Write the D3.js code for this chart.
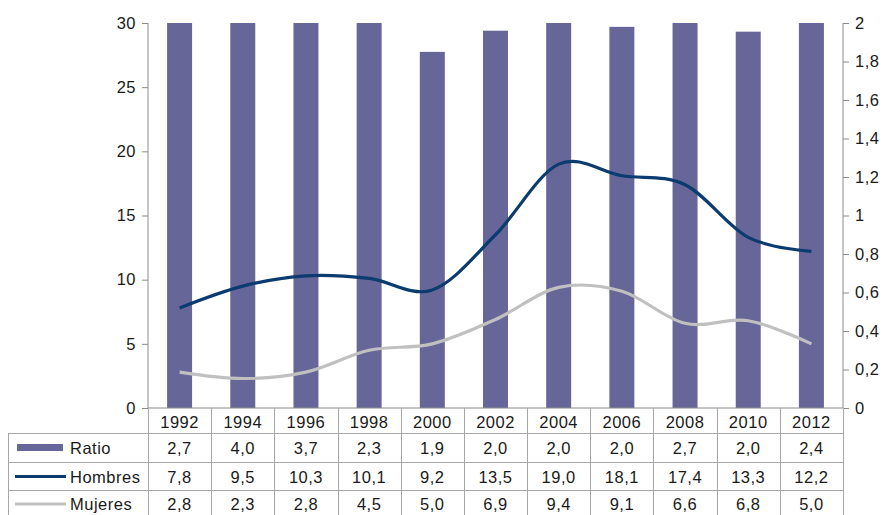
<!DOCTYPE html>
<html><head><meta charset="utf-8">
<script src="https://cdn.jsdelivr.net/npm/d3@7"></script>
<style>body{margin:0;background:#fff}svg{display:block}text{font-family:"Liberation Sans",Arial,sans-serif;fill:#1a1a1a}</style>
</head><body><svg id="c" width="887" height="515"></svg>
<script>
const years = ["1992","1994","1996","1998","2000","2002","2004","2006","2008","2010","2012"];
const ratio = [2.7, 4.0, 3.7, 2.3, 1.85, 1.96, 2.0, 1.98, 2.7, 1.955, 2.4];
const hombres = [7.8, 9.5, 10.3, 10.1, 9.2, 13.5, 19.0, 18.1, 17.4, 13.3, 12.2];
const mujeres = [2.8, 2.3, 2.8, 4.5, 5.0, 6.9, 9.4, 9.1, 6.6, 6.8, 5.0];
const leftTicks = [0, 5, 10, 15, 20, 25, 30];
const rightTicks = [0, 0.2, 0.4, 0.6, 0.8, 1, 1.2, 1.4, 1.6, 1.8, 2];
const seriesNames = ["Ratio", "Hombres", "Mujeres"];

const svg = d3.select("#c");
const L = 148, R = 843, T = 23, B = 408;
const axisColor = "#8c8c8c";
const fs = 16.5;
const ls = "0.5px";
const comma = v => String(v).replace(".", ",");
const fmt1 = v => (Math.round(v * 10) / 10).toFixed(1).replace(".", ",");

const x = d3.scaleBand().domain(years).range([L, R]).paddingInner(0).paddingOuter(0);
const yL = d3.scaleLinear().domain([0, 30]).range([B, T]);
const yR = d3.scaleLinear().domain([0, 2]).range([B, T]).clamp(true);
const barW = 25;

// bars
svg.append("g").selectAll("rect").data(ratio).join("rect")
  .attr("x", (d, i) => x(years[i]) + x.bandwidth() / 2 - barW / 2)
  .attr("width", barW)
  .attr("y", d => yR(d))
  .attr("height", d => B - yR(d))
  .attr("fill", "#666699");

// lines
const line = d3.line().x((d, i) => x(years[i]) + x.bandwidth() / 2).y(d => yL(d)).curve(d3.curveCardinal.tension(0));
svg.append("path").attr("d", line(mujeres)).attr("fill", "none").attr("stroke", "#c0c0c0").attr("stroke-width", 3.2);
svg.append("path").attr("d", line(hombres)).attr("fill", "none").attr("stroke", "#0b3b6f").attr("stroke-width", 3.2);

// axes
const gL = svg.append("g").attr("transform", `translate(${L},0)`)
  .call(d3.axisLeft(yL).tickValues(leftTicks).tickSize(6).tickPadding(6).tickFormat(comma));
const gR = svg.append("g").attr("transform", `translate(${R},0)`)
  .call(d3.axisRight(yR).tickValues(rightTicks).tickSize(6).tickPadding(6).tickFormat(comma));
[gL, gR].forEach(g => {
  g.select(".domain").attr("stroke", axisColor).attr("d", `M0,${T}V${B}`);
  g.selectAll(".tick line").attr("stroke", axisColor);
  g.selectAll(".tick text").attr("font-size", fs).attr("letter-spacing", ls).attr("fill", "#1a1a1a").attr("font-family", '"Liberation Sans",Arial,sans-serif');
});

// data table
const rowTops = [408, 433, 462, 490, 520];
const tbl = svg.append("g");
const gridC = "#a6a6a6";
tbl.append("line").attr("x1", L).attr("x2", R).attr("y1", B).attr("y2", B).attr("stroke", axisColor);
[1, 2, 3].forEach(k => tbl.append("line").attr("x1", 8.5).attr("x2", R).attr("y1", rowTops[k] + 0.5).attr("y2", rowTops[k] + 0.5).attr("stroke", gridC));
const vx = years.map(y => x(y)).concat([R]);
vx.forEach(v => tbl.append("line").attr("x1", Math.round(v) + 0.5).attr("x2", Math.round(v) + 0.5).attr("y1", B).attr("y2", 515).attr("stroke", gridC));
tbl.append("line").attr("x1", 8.5).attr("x2", 8.5).attr("y1", rowTops[1]).attr("y2", 515).attr("stroke", gridC);

tbl.selectAll("text.yr").data(years).join("text").attr("class", "yr")
  .attr("x", d => x(d) + x.bandwidth() / 2).attr("y", (rowTops[0] + rowTops[1]) / 2 + 1)
  .attr("text-anchor", "middle").attr("dominant-baseline", "central").attr("font-size", fs).attr("letter-spacing", ls).text(d => d);

const rows = [ratio.map(fmt1), hombres.map(v => v.toFixed(1).replace(".", ",")), mujeres.map(v => v.toFixed(1).replace(".", ","))];
const rowCenters = [447.5, 476.5, 504];
rows.forEach((r, k) => {
  tbl.selectAll("text.r" + k).data(r).join("text").attr("class", "r" + k)
    .attr("x", (d, i) => x(years[i]) + x.bandwidth() / 2).attr("y", rowCenters[k])
    .attr("text-anchor", "middle").attr("dominant-baseline", "central").attr("font-size", fs).attr("letter-spacing", ls).text(d => d);
  tbl.append("text").attr("x", 70).attr("y", rowCenters[k]).attr("dominant-baseline", "central").attr("font-size", fs).attr("letter-spacing", ls).text(seriesNames[k]);
});
tbl.append("rect").attr("x", 17).attr("y", rowCenters[0] - 3.5).attr("width", 46).attr("height", 7).attr("fill", "#666699");
tbl.append("line").attr("x1", 15).attr("x2", 66).attr("y1", rowCenters[1]).attr("y2", rowCenters[1]).attr("stroke", "#0b3b6f").attr("stroke-width", 3);
tbl.append("line").attr("x1", 15).attr("x2", 66).attr("y1", rowCenters[2]).attr("y2", rowCenters[2]).attr("stroke", "#c0c0c0").attr("stroke-width", 3);
</script></body></html>
